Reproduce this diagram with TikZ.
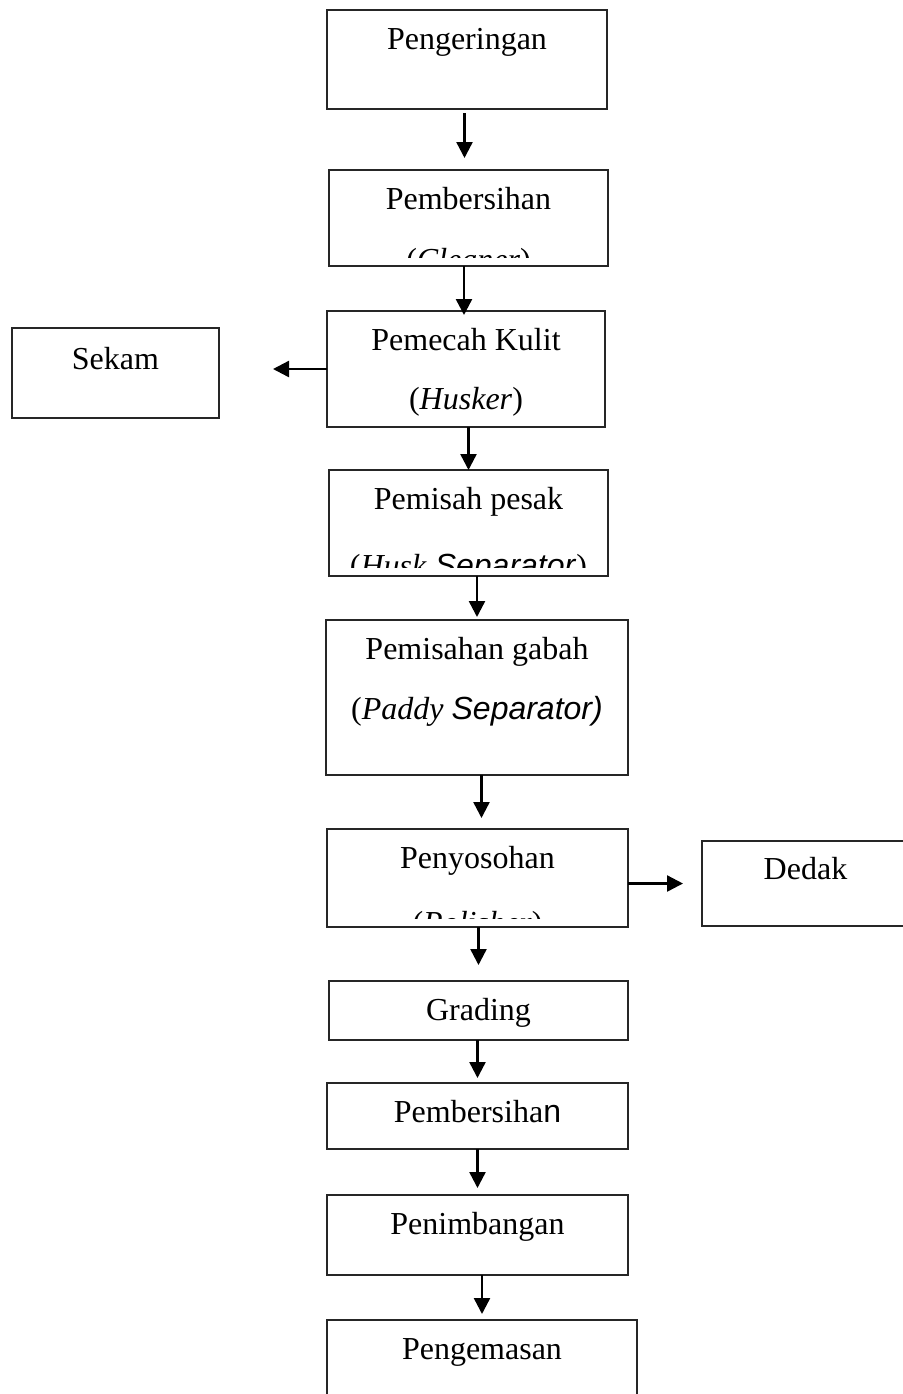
\documentclass[tikz,border=0pt]{standalone}
\usepackage{fontspec}
\setmainfont{Liberation Serif}
\setsansfont{Liberation Sans}
\usetikzlibrary{arrows.meta, positioning}

\begin{document}
\begin{tikzpicture}[
    x=0.5pt, y=-0.5pt,
    stage/.style={rectangle, draw=black!85, line width=0.55pt, inner sep=0pt, outer sep=0pt, text height=19.5pt, font=\fontsize{16pt}{18pt}\selectfont},
    subline/.style={anchor=base, inner sep=0pt, font=\fontsize{16pt}{18pt}\selectfont},
    arrow/.style={-{Triangle[width=8pt, length=8pt]}, line width=1.2pt},
    node distance=22pt
]
\path[use as bounding box, clip] (0,0) rectangle (903,1394);

% Main line of stages
\node[stage, minimum width=140pt, text depth=30pt] (peng) at (467,59.5) {Pengeringan};
\node[stage, minimum width=139.5pt, text depth=28.5pt, below=30.5pt of peng, xshift=0.75pt] (clean) {Pembersihan};
\node[stage, minimum width=139pt, text depth=38.5pt, below=22.5pt of clean, xshift=-1.25pt] (husker) {Pemecah Kulit};
\node[stage, minimum width=139.5pt, text depth=33.5pt, below=21.5pt of husker, xshift=1.25pt] (husksep) {Pemisah pesak};
\node[stage, minimum width=151pt, text depth=58pt, below=22pt of husksep, xshift=4.25pt] (paddy) {Pemisahan gabah};
\node[stage, minimum width=150.5pt, text depth=29.5pt, below=27pt of paddy, xshift=0.25pt] (polisher) {Penyosohan};
\node[stage, minimum width=149.5pt, text depth=10pt, below=27pt of polisher, xshift=0.5pt] (grading) {Grading};
\node[stage, minimum width=150.5pt, text depth=13.5pt, below=21.5pt of grading, xshift=-0.5pt] (cleanb) {Pembersiha\textsf{n}};
\node[stage, minimum width=150.5pt, text depth=20.5pt, below=23pt of cleanb] (weigh) {Penimbangan};
\node[stage, minimum width=155pt, text depth=30.5pt, below=22.5pt of weigh, xshift=2.25pt] (pack) {Pengemasan};

% Side outputs
\node[stage, minimum width=103.5pt, text height=20.5pt, text depth=24.5pt, left=54pt of husker, yshift=-2pt] (sekam) {Sekam};
\node[stage, minimum width=103.5pt, text height=19pt, text depth=23.5pt, right=37pt of polisher, yshift=-2.75pt] (dedak) {Dedak};

% Second lines (cut off by the box where needed)
\node[subline] (huskerB) at ([yshift=-49pt]husker.north) {(\textit{Husker})};
\node[subline] (paddyB) at ([yshift=-49.5pt]paddy.north) {(\textit{Paddy} \textsf{\itshape Separator)}};
\begin{scope}
  \clip ([yshift=4.5pt]clean.south west) rectangle (clean.north east);
  \node[subline] (cleanB) at ([yshift=-50pt]clean.north) {(\textit{Cleaner})};
\end{scope}
\begin{scope}
  \clip ([yshift=4.5pt]husksep.south west) rectangle (husksep.north east);
  \node[subline] (husksepB) at ([yshift=-53pt]husksep.north) {(\textit{Husk} \textsf{\itshape Separator})};
\end{scope}
\begin{scope}
  \clip ([yshift=4.5pt]polisher.south west) rectangle (polisher.north east);
  \node[subline] (polisherB) at ([yshift=-52pt]polisher.north) {(\textit{Polisher})};
\end{scope}

% Flow arrows
\draw[arrow, shorten <=2pt, shorten >=6pt] ([xshift=-2pt]peng.south -| clean.north) -- ([xshift=-2pt]clean.north);
\draw[arrow, shorten >=-2pt] ([xshift=-1pt]clean.south -| husker.north) -- ([xshift=-1pt]husker.north);
\draw[arrow] (husker.south -| husksep.north) -- (husksep.north);
\draw[arrow, shorten >=1.5pt] (husksep.south -| paddy.north) -- (paddy.north);
\draw[arrow, shorten >=5.5pt] ([xshift=2pt]paddy.south -| polisher.north) -- ([xshift=2pt]polisher.north);
\draw[arrow, shorten >=8pt] (polisher.south -| grading.north) -- (grading.north);
\draw[arrow, shorten >=2.5pt] (grading.south -| cleanb.north) -- (cleanb.north);
\draw[arrow, shorten >=3.5pt] (cleanb.south -| weigh.north) -- (weigh.north);
\draw[arrow, shorten >=3pt] (weigh.south -| pack.north) -- (pack.north);

\draw[arrow, shorten >=27pt] (husker.west) -- (husker.west -| sekam.east);
\draw[arrow, shorten >=9.5pt] (polisher.east |- dedak.west) -- (dedak.west);

\end{tikzpicture}
\end{document}
